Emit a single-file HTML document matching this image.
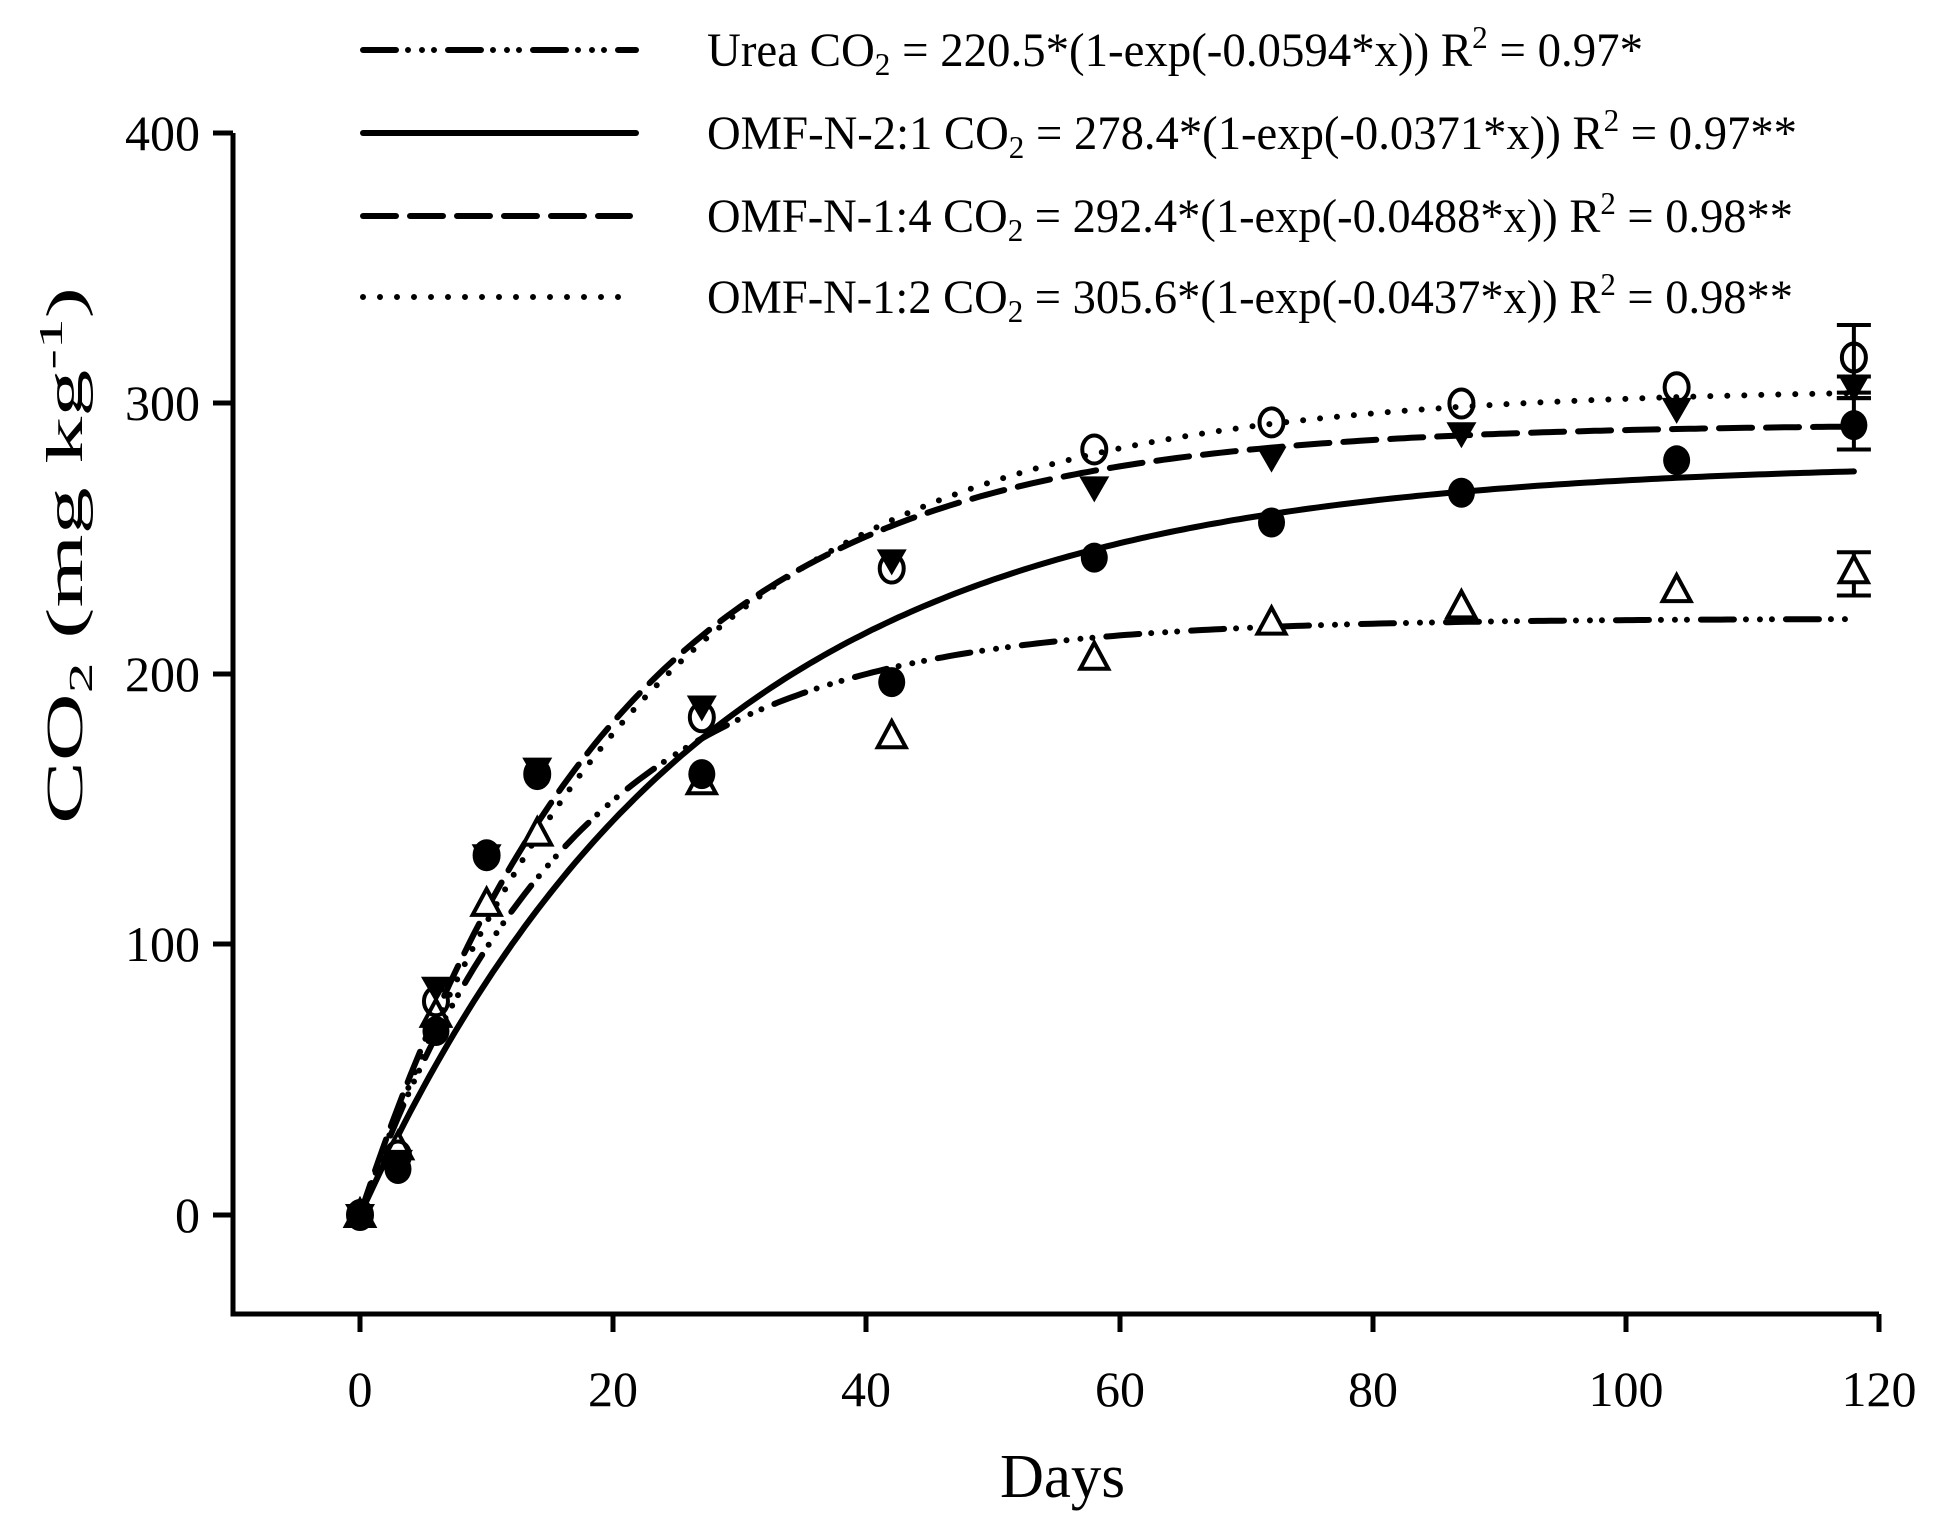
<!DOCTYPE html>
<html><head><meta charset="utf-8"><style>html,body{margin:0;padding:0;background:#fff}svg{display:block}</style></head>
<body>
<svg id="s" xmlns="http://www.w3.org/2000/svg" width="1947" height="1515" viewBox="0 0 1947 1515" font-family="'Liberation Serif', serif" fill="#000">
<g stroke="#000" stroke-width="5" fill="none">
<path d="M233 133 V1314 H1879"/>
<path d="M213 133H233M213 403H233M213 674H233M213 944H233M213 1215H233"/>
<path d="M360 1314V1332M613 1314V1332M866 1314V1332M1120 1314V1332M1373 1314V1332M1626 1314V1332M1879 1314V1332"/>
</g>
<g font-size="50" text-anchor="end">
<text x="200" y="150">400</text><text x="200" y="420">300</text><text x="200" y="691">200</text><text x="200" y="961">100</text><text x="200" y="1232">0</text>
</g>
<g font-size="50" text-anchor="middle">
<text x="360" y="1406">0</text><text x="613" y="1406">20</text><text x="866" y="1406">40</text><text x="1120" y="1406">60</text><text x="1373" y="1406">80</text><text x="1626" y="1406">100</text><text x="1879" y="1406">120</text>
</g>
<text x="1000" y="1497" font-size="62" textLength="125" lengthAdjust="spacingAndGlyphs">Days</text>
<text transform="translate(82,824) rotate(-90)" font-size="52" textLength="537" lengthAdjust="spacingAndGlyphs">CO<tspan font-size="34" dy="10">2</tspan><tspan dy="-10"> (mg kg</tspan><tspan font-size="34" dy="-20">-1</tspan><tspan dy="20">)</tspan></text>
<g stroke="#000" stroke-width="6" stroke-linecap="round" fill="none">
<line x1="363" y1="50" x2="636" y2="50" stroke-dasharray="33 12 0 14 0 12 0 14"/>
<line x1="363" y1="133" x2="636" y2="133"/>
<line x1="363" y1="216" x2="630" y2="216" stroke-dasharray="33 14"/>
<line x1="363" y1="297" x2="622" y2="297" stroke-dasharray="0 17"/>
</g>
<g font-size="48">
<text x="707" y="66" textLength="936" lengthAdjust="spacingAndGlyphs">Urea CO<tspan font-size="32" dy="9">2</tspan><tspan dy="-9"> = 220.5*(1-exp(-0.0594*x)) R</tspan><tspan font-size="32" dy="-18">2</tspan><tspan dy="18"> = 0.97*</tspan></text>
<text x="707" y="149" textLength="1090" lengthAdjust="spacingAndGlyphs">OMF-N-2:1 CO<tspan font-size="32" dy="9">2</tspan><tspan dy="-9"> = 278.4*(1-exp(-0.0371*x)) R</tspan><tspan font-size="32" dy="-18">2</tspan><tspan dy="18"> = 0.97**</tspan></text>
<text x="707" y="232" textLength="1086" lengthAdjust="spacingAndGlyphs">OMF-N-1:4 CO<tspan font-size="32" dy="9">2</tspan><tspan dy="-9"> = 292.4*(1-exp(-0.0488*x)) R</tspan><tspan font-size="32" dy="-18">2</tspan><tspan dy="18"> = 0.98**</tspan></text>
<text x="707" y="313" textLength="1086" lengthAdjust="spacingAndGlyphs">OMF-N-1:2 CO<tspan font-size="32" dy="9">2</tspan><tspan dy="-9"> = 305.6*(1-exp(-0.0437*x)) R</tspan><tspan font-size="32" dy="-18">2</tspan><tspan dy="18"> = 0.98**</tspan></text>
</g>
<g id="plot"></g>
</svg>
<script>
(function(){
var X=function(d){return 360+d*12.66},Y=function(v){return 1215-v*2.705};
var g=document.getElementById('plot'),ns='http://www.w3.org/2000/svg';
function el(t,a){var e=document.createElementNS(ns,t);for(var k in a)e.setAttribute(k,a[k]);g.appendChild(e);return e;}
var curves=[[220.5,0.0594,"33 12 0 14 0 12 0 14"],[278.4,0.0371,""],[292.4,0.0488,"33 14"],[305.6,0.0437,"0 17"]];
curves.forEach(function(c){var d="";for(var x=0;x<=118;x+=0.5){d+=(x?"L":"M")+X(x).toFixed(1)+" "+Y(c[0]*(1-Math.exp(-c[1]*x))).toFixed(1);}
var a={d:d,stroke:"#000","stroke-width":6,fill:"none","stroke-linecap":"round"};if(c[2])a["stroke-dasharray"]=c[2];el('path',a);});
var days=[0,3,6,10,14,27,42,58,72,87,104,118];
var fc=[0,17,68,133,163,163,197,243,256,267,279,292];
var dt=[0,20,84,133,165,188,242,269,280,289,298,306];
var oc=[0,22,79,133,163,184,239,283,293,300,306,317];
var tr=[0,25,74,115,141,160,177,206,219,225,231,238];
function eb(d,lo,hi){var x=X(d);el('path',{d:"M"+(x-17)+" "+Y(hi)+"H"+(x+17)+"M"+x+" "+Y(hi)+"V"+Y(lo)+"M"+(x-17)+" "+Y(lo)+"H"+(x+17),stroke:"#000","stroke-width":4,fill:"none"});}
eb(118,304,329);eb(118,229,245);eb(118,283,302);eb(118,302,310);
days.forEach(function(d,i){var x=X(d),y;
y=Y(tr[i]);el('path',{d:"M"+x+" "+(y-15)+"L"+(x+14)+" "+(y+11)+"H"+(x-14)+"Z",fill:"#fff",stroke:"#000","stroke-width":4});
y=Y(dt[i]);el('path',{d:"M"+(x-15)+" "+(y-11)+"H"+(x+15)+"L"+x+" "+(y+15)+"Z",fill:"#000"});
y=Y(oc[i]);el('ellipse',{cx:x,cy:y,rx:12,ry:14,fill:"none",stroke:"#000","stroke-width":4});
y=Y(fc[i]);el('ellipse',{cx:x,cy:y,rx:13.5,ry:15,fill:"#000"});
});
})();
</script>
</body></html>
